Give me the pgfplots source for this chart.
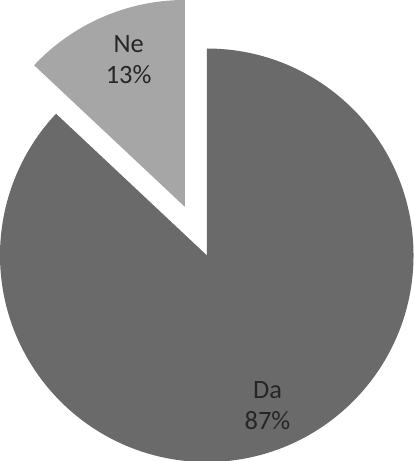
\documentclass[border=0pt]{standalone}
\usepackage{pgfplots}
\usepackage{pgfplotstable}
\pgfplotsset{compat=1.18}
\usepackage{fontspec}
\setmainfont{Carlito}
\definecolor{daColor}{HTML}{6A6A6A}
\definecolor{neColor}{HTML}{A6A6A6}
\definecolor{txt}{HTML}{262626}
\pgfplotstableread{
label value
Da 87
Ne 13
}\pietable
\begin{document}
\begin{tikzpicture}
\pgfplotstablegetelem{0}{value}\of\pietable \edef\vDa{\pgfplotsretval}%
\pgfplotstablegetelem{1}{value}\of\pietable \edef\vNe{\pgfplotsretval}%
\pgfmathsetmacro\daEnd{90-3.6*\vDa}%
\pgfmathsetmacro\neEnd{90+3.6*\vNe}%
\begin{axis}[
  x=1bp, y=1bp,
  xmin=0, xmax=418, ymin=0, ymax=461,
  hide axis,
  clip=true,
]
% Da slice
\fill[daColor] (axis cs:214.5,201.5) -- ++(90:202.5bp) arc[start angle=90, end angle=\daEnd, radius=202.5bp] -- cycle;
% Ne slice (exploded)
\fill[neColor] (axis cs:193,249) -- ++(90:202.5bp) arc[start angle=90, end angle=\neEnd, radius=202.5bp] -- cycle;
\node[align=center, text=txt, font=\fontsize{26}{30}\selectfont] at (axis cs:138,393) {Ne\\\vNe\%};
\node[align=center, text=txt, font=\fontsize{26}{30}\selectfont] at (axis cs:274,54) {Da\\\vDa\%};
\end{axis}
\end{tikzpicture}
\end{document}
